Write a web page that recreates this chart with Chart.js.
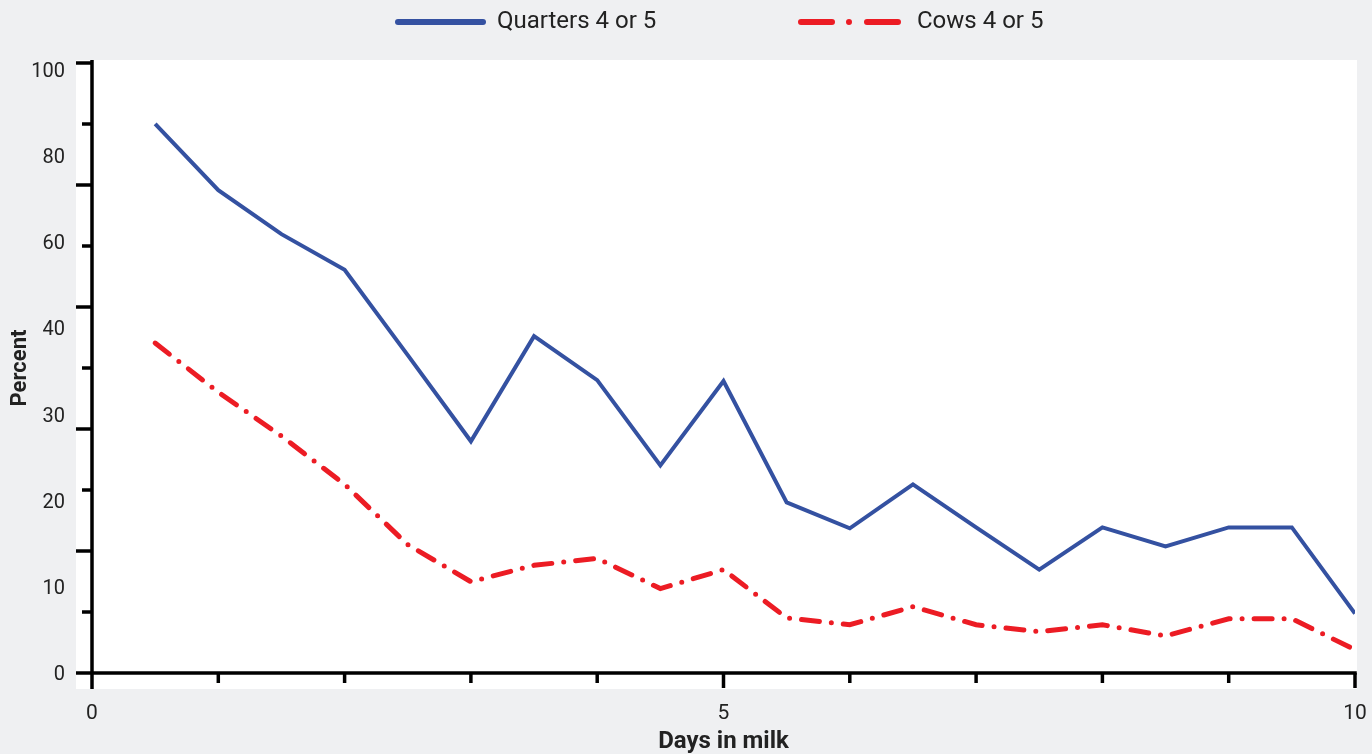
<!DOCTYPE html>
<html>
<head>
<meta charset="utf-8">
<script src="https://cdn.jsdelivr.net/npm/chart.js@4.4.1/dist/chart.umd.min.js"></script>
<style>
html,body{margin:0;padding:0;background:#eff0f2;overflow:hidden;}
#c{display:block;}
</style>
</head>
<body>
<canvas id="c" width="1372" height="754"></canvas>
<script>
// ---- data ----
const days = [0.5,1,1.5,2,2.5,3,3.5,4,4.5,5,5.5,6,6.5,7,7.5,8,8.5,9,9.5,10];
const quarters = [87.5,72.1,61.9,53.6,36.9,26.9,39.1,34.0,24.1,33.9,19.8,16.8,21.9,16.9,12.0,16.9,14.7,16.9,16.9,6.9];
const cows = [38.3,32.6,27.5,21.9,14.9,10.6,12.5,13.3,9.8,12.0,6.4,5.6,7.7,5.6,4.8,5.6,4.3,6.3,6.3,2.7];
const seriesNames = ['Quarters 4 or 5','Cows 4 or 5'];
const yTickValues = [0,10,20,30,40,60,80,100];
const xTickLabels = [0,5,10];

const BLUE = '#3451a1';
const RED = '#ec1c24';
const TEXT = '#222222';

Chart.defaults.font.family = 'Roboto, "Noto Sans", sans-serif';
Chart.defaults.color = TEXT;

// Axis with equal spacing per label step: 0-40 by 10, 40-100 by 20
class BrokenScale extends Chart.LinearScale {
  static id = 'broken';
  static defaults = {};
  _step(v){ return v <= 40 ? v/10 : 4 + (v-40)/20; }
  _val(s){ return s <= 4 ? s*10 : 40 + (s-4)*20; }
  buildTicks(){ return yTickValues.map(v => ({value: v})); }
  getPixelForValue(v){
    const s0 = this._step(this.min), s1 = this._step(this.max);
    return this.getPixelForDecimal((this._step(v) - s0) / (s1 - s0));
  }
  getValueForPixel(p){
    const s0 = this._step(this.min), s1 = this._step(this.max);
    return this._val(s0 + this.getDecimalForPixel(p) * (s1 - s0));
  }
}
Chart.register(BrokenScale);

function seg(ctx, x1, y1, x2, y2){ ctx.beginPath(); ctx.moveTo(x1,y1); ctx.lineTo(x2,y2); ctx.stroke(); }

const framePlugin = {
  id: 'frame',
  beforeDraw(chart){
    const {ctx, chartArea: a} = chart;
    ctx.save();
    ctx.fillStyle = '#ffffff';
    ctx.fillRect(a.left - 16, a.top - 3, a.right - a.left + 18, a.bottom - a.top + 19);
    ctx.restore();
  },
  afterDatasetsDraw(chart){
    const {ctx, chartArea: a, scales: {x}} = chart;
    ctx.save();
    ctx.strokeStyle = '#000';
    ctx.lineWidth = 3.5;
    ctx.lineCap = 'butt';
    seg(ctx, a.left, a.top - 3, a.left, a.bottom + 16);
    seg(ctx, a.left - 16, a.bottom, a.right + 1.75, a.bottom);
    for (let k = 1; k <= 10; k++) {
      const y = a.bottom - k * (a.bottom - a.top) / 10;
      const len = (k % 2 === 0) ? 16 : 10;
      seg(ctx, a.left - len, y, a.left, y);
    }
    for (let i = 1; i <= 10; i++) {
      const px = x.getPixelForValue(i);
      const len = (i % 5 === 0) ? 15 : 10;
      seg(ctx, px, a.bottom, px, a.bottom + len);
    }
    ctx.restore();
  }
};

const legendPlugin = {
  id: 'legendBox',
  afterDraw(chart){
    const ctx = chart.ctx;
    const y = 22;
    const items = [
      {x1: 398, x2: 483, tx: 497, dash: []},
      {x1: 801, x2: 898, tx: 917, dash: [31,17,0,18]}
    ];
    chart.data.datasets.forEach((ds, i) => {
      const it = items[i];
      ctx.save();
      ctx.strokeStyle = ds.borderColor;
      ctx.lineWidth = 6;
      ctx.lineCap = 'round';
      ctx.setLineDash(it.dash);
      seg(ctx, it.x1, y, it.x2, y);
      ctx.restore();
      ctx.save();
      ctx.fillStyle = TEXT;
      ctx.font = '24px Roboto, "Noto Sans", sans-serif';
      ctx.textBaseline = 'middle';
      ctx.textAlign = 'left';
      ctx.fillText(ds.label, it.tx, y);
      ctx.restore();
    });
  }
};

new Chart(document.getElementById('c'), {
  type: 'line',
  data: {
    datasets: [
      {
        label: seriesNames[0],
        data: days.map((d, i) => ({x: d, y: quarters[i]})),
        borderColor: BLUE,
        backgroundColor: BLUE,
        borderWidth: 4,
        pointRadius: 0,
        tension: 0,
        fill: false
      },
      {
        label: seriesNames[1],
        data: days.map((d, i) => ({x: d, y: cows[i]})),
        borderColor: RED,
        backgroundColor: RED,
        borderWidth: 5,
        borderDash: [18,12,0,12],
        borderCapStyle: 'round',
        pointRadius: 0,
        tension: 0,
        fill: false
      }
    ]
  },
  options: {
    responsive: false,
    animation: false,
    devicePixelRatio: 1,
    layout: {padding: {left: 0, right: 17, top: 63, bottom: 0}},
    plugins: {legend: {display: false}, tooltip: {enabled: false}},
    scales: {
      x: {
        type: 'linear',
        min: 0, max: 10,
        grid: {display: false, drawTicks: false},
        border: {display: false},
        ticks: {
          stepSize: 1, autoSkip: false, maxRotation: 0, padding: 28,
          font: {size: 21}, color: TEXT,
          callback: (v) => xTickLabels.includes(v) ? String(v) : ''
        },
        title: {display: true, text: 'Days in milk', font: {size: 24, weight: 'bold'}, color: TEXT, padding: {top: 0, bottom: -2}},
        afterFit(s){ s.height = 81; s.paddingLeft = 0; s.paddingRight = 0; }
      },
      y: {
        type: 'broken',
        min: 0, max: 101.63,
        grid: {display: false, drawTicks: false},
        border: {display: false},
        ticks: {autoSkip: false, padding: 27, labelOffset: 2, font: {size: 20}, color: TEXT},
        title: {display: true, text: 'Percent', font: {size: 22, weight: 'bold'}, color: TEXT, padding: {top: 7, bottom: 0}},
        afterFit(s){ s.width = 92; s.paddingTop = 0; s.paddingBottom = 0; }
      }
    }
  },
  plugins: [framePlugin, legendPlugin]
});
</script>
</body>
</html>
